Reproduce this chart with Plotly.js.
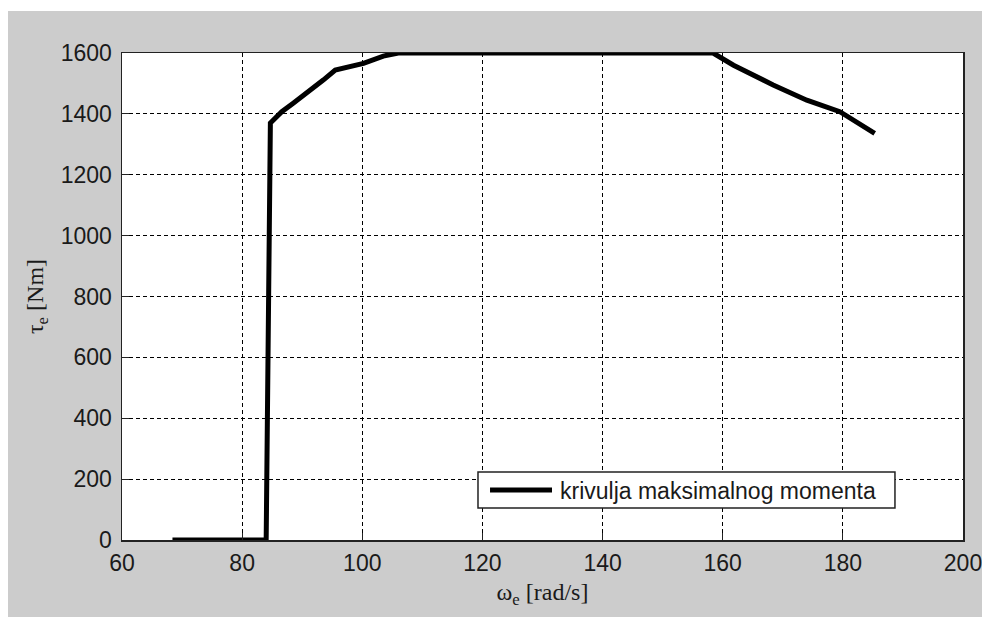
<!DOCTYPE html>
<html>
<head>
<meta charset="utf-8">
<script src="https://cdn.plot.ly/plotly-3.0.1.min.js"></script>
<style>
  html, body { margin: 0; padding: 0; background: #ffffff; width: 982px; height: 617px; overflow: hidden; }
  #chart { position: absolute; left: 8px; top: 11px; width: 974px; height: 606px; }
</style>
</head>
<body>
<div id="chart"></div>
<script>
// Engine speed (rad/s) and maximum torque (Nm)
const omega  = [68.4, 84.0, 84.7, 86.6, 88.5, 90.7, 93.5, 95.5, 98.0, 100.2, 103.5, 106.0, 151.7, 158.4, 161.8, 165.6, 168.4, 174.0, 179.5, 185.3];
const torque = [0, 0, 1370, 1407, 1435, 1467, 1511, 1544, 1555, 1566, 1590, 1600, 1600, 1600, 1560, 1522, 1495, 1445, 1407, 1336];
const seriesName = 'krivulja maksimalnog momenta';
const xTicks = [60, 80, 100, 120, 140, 160, 180, 200];
const yTicks = [0, 200, 400, 600, 800, 1000, 1200, 1400, 1600];

const tickFont = { family: 'Liberation Sans, Arial, sans-serif', size: 23, color: '#1a1a1a' };
const titleFont = { family: 'Liberation Serif, Times New Roman, serif', size: 24, color: '#1a1a1a' };

const trace = {
  x: omega, y: torque, type: 'scatter', mode: 'lines', name: seriesName,
  line: { color: '#000000', width: 5 }, showlegend: false
};

const axisCommon = {
  showline: true, linecolor: '#222222', linewidth: 1.5, mirror: true,
  showgrid: true, gridcolor: '#000000', gridwidth: 1, griddash: '4px,3px',
  zeroline: false, ticks: 'inside', ticklen: 7, tickcolor: '#222222',
  tickfont: tickFont, ticklabeloverflow: 'allow'
};

// MATLAB-style legend box (drawn in plot-area paper coordinates)
const legendBox = { x0: 0.4233, x1: 0.9191, y0: 0.0657, y1: 0.1396 };
const legendSample = { x0: 0.4376, x1: 0.5113, y: 0.1027 };
const legendTextPos = { x: 0.5184, y: 0.1006 };

const layout = {
  width: 974, height: 606,
  paper_bgcolor: '#cccccc', plot_bgcolor: '#ffffff',
  margin: { l: 114, r: 19, t: 42, b: 77 },
  showlegend: false,
  xaxis: Object.assign({}, axisCommon, {
    range: [60, 200], tickvals: xTicks, ticktext: xTicks.map(String),
    ticklabelstandoff: 2,
    title: { text: 'ω<sub>e</sub> [rad/s]', font: titleFont, standoff: 8 }
  }),
  yaxis: Object.assign({}, axisCommon, {
    range: [0, 1600], tickvals: yTicks, ticktext: yTicks.map(String),
    ticklabelstandoff: 4,
    title: { text: 'τ<sub>e</sub> [Nm]', font: titleFont, standoff: 10 }
  }),
  shapes: [
    { type: 'rect', xref: 'paper', yref: 'paper',
      x0: legendBox.x0, x1: legendBox.x1, y0: legendBox.y0, y1: legendBox.y1,
      fillcolor: '#ffffff', line: { color: '#222222', width: 1.5 }, layer: 'above' },
    { type: 'line', xref: 'paper', yref: 'paper',
      x0: legendSample.x0, x1: legendSample.x1, y0: legendSample.y, y1: legendSample.y,
      line: { color: '#000000', width: 5 }, layer: 'above' }
  ],
  annotations: [
    { xref: 'paper', yref: 'paper', x: legendTextPos.x, y: legendTextPos.y,
      xanchor: 'left', yanchor: 'middle', showarrow: false, text: seriesName,
      font: { family: 'Liberation Sans, Arial, sans-serif', size: 23, color: '#1a1a1a' } }
  ]
};

Plotly.newPlot('chart', [trace], layout, { displayModeBar: false, staticPlot: true });
</script>
</body>
</html>
